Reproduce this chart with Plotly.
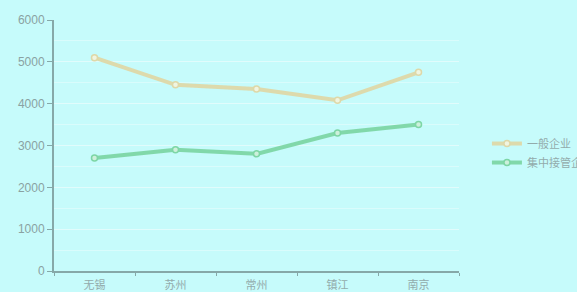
import plotly.graph_objects as go

categories = ["无锡", "苏州", "常州", "镇江", "南京"]
general = [5100, 4450, 4350, 4080, 4750]
central = [2700, 2900, 2800, 3300, 3500]
series_names = ["一般企业", "集中接管企业"]
y_ticks = [0, 1000, 2000, 3000, 4000, 5000, 6000]

bg = "#c6fbfb"
fig = go.Figure()
fig.add_trace(go.Scatter(
    x=categories, y=general, name=series_names[0], mode="lines+markers",
    line=dict(color="rgba(222,216,168,0.95)", width=4),
    marker=dict(size=6, color="rgba(240,245,225,1)", line=dict(color="rgba(222,216,168,1)", width=1.5)),
))
fig.add_trace(go.Scatter(
    x=categories, y=central, name=series_names[1], mode="lines+markers",
    line=dict(color="rgba(125,214,165,0.95)", width=4),
    marker=dict(size=6, color="rgba(205,240,220,1)", line=dict(color="rgba(125,214,165,1)", width=1.5)),
))
fig.update_layout(
    width=577, height=292,
    margin=dict(l=54, r=118, t=20, b=21, autoexpand=False),
    paper_bgcolor=bg, plot_bgcolor=bg,
    font=dict(family="Noto Sans CJK SC", size=11, color="#93abab"),
    showlegend=True,
    legend=dict(x=0.069, y=0.47, xanchor="left", yanchor="middle",
                bgcolor="rgba(0,0,0,0)", font=dict(size=11, color="#93abab"),
                tracegroupgap=0, itemwidth=30),
)
fig.update_layout(legend_x=1.069)
fig.update_xaxes(
    type="category", range=[-0.5, 4.5], showgrid=False,
    showline=True, linecolor="#86a8a8", linewidth=2,
    ticks="outside", tickson="boundaries", ticklen=3, tickcolor="#86a8a8",
    tickfont=dict(size=11, color="#93abab"), ticklabelstandoff=3,
)
fig.update_yaxes(
    range=[0, 6000], tickvals=y_ticks, showgrid=True, gridcolor="rgba(225,252,252,0.9)", gridwidth=1,
    minor=dict(dtick=500, showgrid=True, gridcolor="rgba(225,252,252,0.7)", gridwidth=1),
    showline=True, linecolor="#86a8a8", linewidth=2,
    ticks="outside", ticklen=5, tickcolor="#86a8a8", zeroline=False,
    tickfont=dict(family="Liberation Sans", size=12, color="#8aa2a2"),
)
fig.write_html("out.html", config={"displayModeBar": False})
with open("out.html", encoding="utf-8") as f:
    html = f.read()
html = html.replace("<body>", '<body style="margin:0;padding:0;overflow:hidden;background:%s">' % bg, 1)
with open("out.html", "w", encoding="utf-8") as f:
    f.write(html)
